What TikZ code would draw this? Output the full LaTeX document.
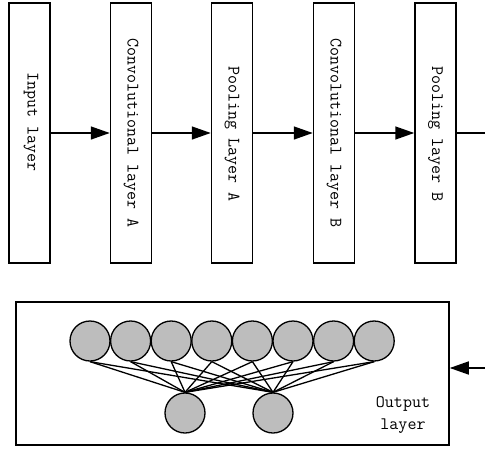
\documentclass[tikz,border=0pt]{standalone}
\usepackage{tikz}
\usetikzlibrary{arrows.meta, positioning}

\begin{document}
\begin{tikzpicture}[
        x=1pt, y=-1pt,
        layer/.style={
            draw,
            line width=1.5pt,
            minimum width=41pt,
            minimum height=260pt,
            inner sep=0pt
        },
        caption/.style={
            rotate=-90,
            font=\fontsize{17.5}{22}\selectfont\ttfamily,
            inner sep=0pt
        },
        neuron/.style={
            circle,
            draw,
            line width=1.3pt,
            fill=black!26,
            minimum size=40pt,
            inner sep=0pt
        },
        link/.style={line width=1.3pt},
        arrow/.style={-{Triangle[length=19pt, width=13pt]}, line width=1.5pt}
    ]
        \useasboundingbox (0,0) rectangle (485,450);

        % feature extraction stages
        \node[layer] (input) at (29.5,133) {};
        \node[layer] (convA) at (131,133) {};
        \node[layer] (poolA) at (232,133) {};
        \node[layer] (convB) at (334,133) {};
        \node[layer] (poolB) at (435.5,133) {};

        \node[caption] at (31,122) {Input layer};
        \node[caption] at (131,133) {Convolutional layer A};
        \node[caption] at (232,134) {Pooling Layer A};
        \node[caption] at (334,133) {Convolutional layer B};
        \node[caption] at (435.5,134) {Pooling layer B};

        \coordinate (exit) at (485,133);
        \coordinate (enter) at (485,368);

        \draw[arrow] (input) -- (convA);
        \draw[arrow] (convA) -- (poolA);
        \draw[arrow] (poolA) -- (convB);
        \draw[arrow] (convB) -- (poolB);
        \draw[line width=1.5pt] (poolB) -- (exit);

        % output stage
        \node[draw, line width=1.5pt, minimum width=433pt, minimum height=143pt, inner sep=0pt] (output) at (232.5,373.5) {};
        \node[font=\fontsize{17.5}{22}\selectfont\ttfamily, align=center, inner sep=0pt] (outtext) at (403,415) {Output\\layer};
        \draw[arrow] (enter) -- (enter -| output.east);

        \foreach \i in {1,...,8}
            \node[neuron] (t\i) at ({90+40.6*(\i-1)},341) {};
        \node[neuron] (b1) at (185,413) {};
        \node[neuron] (b2) at (273,413) {};

        \foreach \i in {1,...,8}
            \foreach \j in {1,2}
                \draw[link] (t\i.south) -- (b\j.north);
    \end{tikzpicture}
\end{document}
